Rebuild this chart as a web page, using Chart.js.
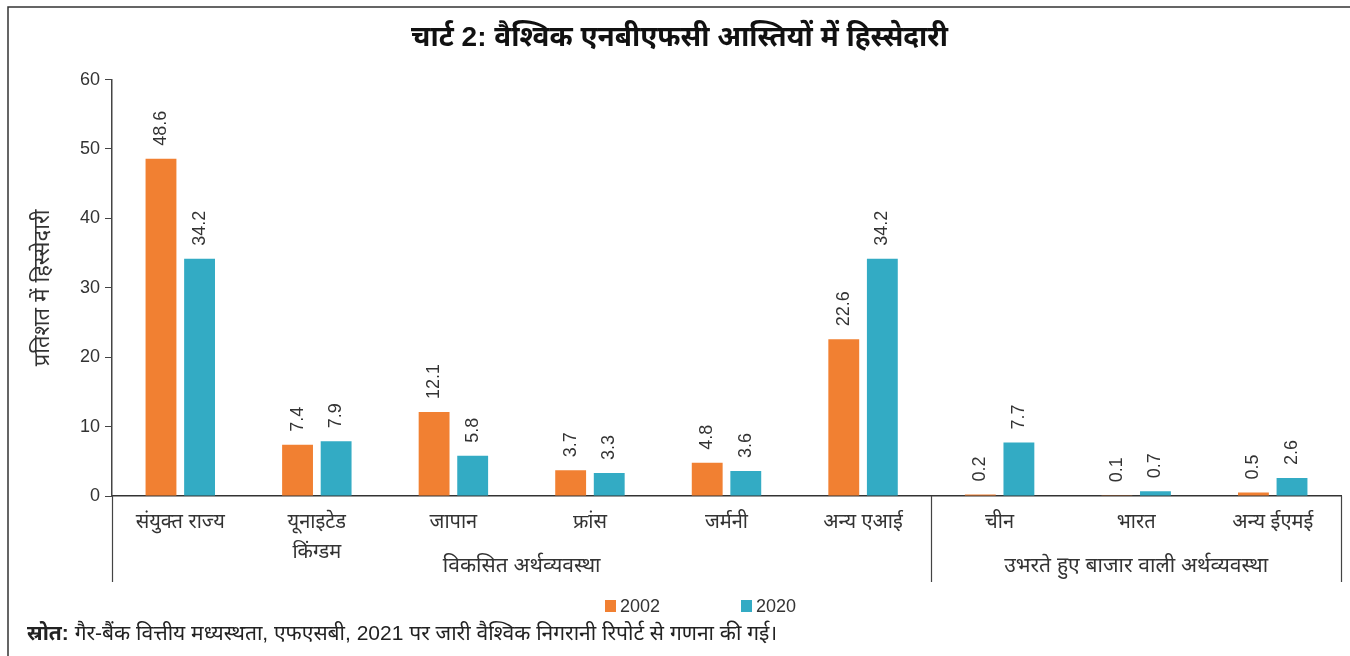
<!DOCTYPE html>
<html>
<head>
    <meta charset="utf-8">
    <title>वैश्विक एनबीएफसी आस्तियों में हिस्सेदारी</title>
    <script src="https://cdn.jsdelivr.net/npm/chart.js"></script>
    <style>
        body { margin: 0; background: #fff; }
    </style>
</head>
<body>
    <canvas id="mainChart" width="1350" height="656"></canvas>
    <script>
        const FONT = '"Liberation Sans", "Noto Sans", sans-serif';

        const categories = [
            'संयुक्त राज्य', ['यूनाइटेड', 'किंग्डम'], 'जापान', 'फ्रांस', 'जर्मनी',
            'अन्य एआई', 'चीन', 'भारत', 'अन्य ईएमई'
        ];
        // समूह: नाम और उसमें कितनी श्रेणियाँ
        const groupNames = ['विकसित अर्थव्यवस्था', 'उभरते हुए बाजार वाली अर्थव्यवस्था'];
        const groupSizes = [6, 3];

        const share2002 = [48.6, 7.4, 12.1, 3.7, 4.8, 22.6, 0.2, 0.1, 0.5];
        const share2020 = [34.2, 7.9, 5.8, 3.3, 3.6, 34.2, 7.7, 0.7, 2.6];
        const yTicks = [0, 10, 20, 30, 40, 50, 60];

        const titleText = 'चार्ट 2: वैश्विक एनबीएफसी आस्तियों में हिस्सेदारी';
        const yTitle = 'प्रतिशत में हिस्सेदारी';
        const sourceLead = 'स्रोत:';
        const sourceText = ' गैर-बैंक वित्तीय मध्यस्थता, एफएसबी, 2021 पर जारी वैश्विक निगरानी रिपोर्ट से गणना की गई।';

        // बार के ऊपर घुमाए हुए मान
        const valueLabels = {
            id: 'valueLabels',
            afterDatasetsDraw(chart) {
                const ctx = chart.ctx;
                ctx.save();
                ctx.font = '18px ' + FONT;
                ctx.fillStyle = '#333';
                ctx.textAlign = 'left';
                ctx.textBaseline = 'middle';
                chart.data.datasets.forEach((ds, di) => {
                    chart.getDatasetMeta(di).data.forEach((bar, i) => {
                        ctx.save();
                        ctx.translate(bar.x, bar.y - 13);
                        ctx.rotate(-Math.PI / 2);
                        ctx.fillText(ds.data[i].toFixed(1), 0, 0);
                        ctx.restore();
                    });
                });
                ctx.restore();
            }
        };

        // समूह विभाजक, समूह नाम, लेजेंड, स्रोत और फ्रेम
        const extras = {
            id: 'extras',
            afterDraw(chart) {
                const ctx = chart.ctx;
                const x = chart.scales.x;
                const area = chart.chartArea;
                const step = (x.right - x.left) / categories.length;
                ctx.save();

                // फ्रेम
                ctx.strokeStyle = '#333';
                ctx.lineWidth = 1.5;
                ctx.beginPath();
                ctx.moveTo(8, chart.height);
                ctx.lineTo(8, 7);
                ctx.lineTo(chart.width, 7);
                ctx.stroke();

                // विभाजक रेखाएँ
                ctx.strokeStyle = '#444';
                ctx.lineWidth = 1.2;
                let start = 0;
                const edges = [0];
                groupSizes.forEach(n => { start += n; edges.push(start); });
                edges.forEach(e => {
                    const px = Math.round(x.left + e * step) + 0.5;
                    ctx.beginPath();
                    ctx.moveTo(px, area.bottom);
                    ctx.lineTo(px, area.bottom + 86);
                    ctx.stroke();
                });

                // समूह नाम
                ctx.font = '21px ' + FONT;
                ctx.fillStyle = '#333';
                ctx.textAlign = 'center';
                ctx.textBaseline = 'middle';
                groupNames.forEach((g, gi) => {
                    const cx = x.left + (edges[gi] + edges[gi + 1]) / 2 * step;
                    ctx.fillText(g, cx, area.bottom + 70);
                });

                // लेजेंड
                ctx.font = '18px ' + FONT;
                const legendX = [605, 741];
                chart.data.datasets.forEach((ds, di) => {
                    ctx.fillStyle = ds.backgroundColor;
                    ctx.fillRect(legendX[di], 600, 11, 12);
                    ctx.fillStyle = '#333';
                    ctx.textAlign = 'left';
                    ctx.fillText(ds.label, legendX[di] + 15, 607);
                });

                // स्रोत
                ctx.font = 'bold 21px ' + FONT;
                ctx.fillStyle = '#222';
                ctx.fillText(sourceLead, 27, 634);
                const w = ctx.measureText(sourceLead).width;
                ctx.font = '21px ' + FONT;
                ctx.fillText(sourceText, 27 + w, 634);

                ctx.restore();
            }
        };

        new Chart(document.getElementById('mainChart'), {
            type: 'bar',
            data: {
                labels: categories,
                datasets: [
                    {
                        label: '2002',
                        data: share2002,
                        backgroundColor: '#F18032',
                        categoryPercentage: 0.565,
                        barPercentage: 0.8
                    },
                    {
                        label: '2020',
                        data: share2020,
                        backgroundColor: '#33ABC4',
                        categoryPercentage: 0.565,
                        barPercentage: 0.8
                    }
                ]
            },
            options: {
                responsive: false,
                maintainAspectRatio: false,
                animation: false,
                layout: { padding: { top: 0, left: 18, right: 9, bottom: 70 } },
                scales: {
                    x: {
                        grid: { display: false },
                        border: { color: '#333', width: 1.5 },
                        ticks: {
                            color: '#333',
                            font: { size: 20, family: FONT, lineHeight: 1.5 },
                            padding: 3,
                            maxRotation: 0,
                            autoSkip: false
                        },
                        afterFit: scale => { scale.height = 90; }
                    },
                    y: {
                        min: 0,
                        max: 60,
                        afterBuildTicks: scale => {
                            scale.ticks = yTicks.map(v => ({ value: v }));
                        },
                        grid: { drawOnChartArea: false, tickLength: 7, color: '#444' },
                        border: { color: '#444', width: 1.5 },
                        ticks: {
                            color: '#333',
                            font: { size: 18, family: FONT },
                            padding: 5
                        },
                        title: {
                            display: true,
                            text: yTitle,
                            color: '#333',
                            font: { size: 22, family: FONT },
                            padding: { top: 12, bottom: 0 }
                        },
                        afterFit: scale => { scale.width = 94; }
                    }
                },
                plugins: {
                    legend: { display: false },
                    tooltip: { enabled: false },
                    title: {
                        display: true,
                        text: titleText,
                        color: '#111',
                        font: { size: 28, weight: 'bold', family: FONT },
                        padding: { top: 21, bottom: 25 }
                    }
                }
            },
            plugins: [valueLabels, extras]
        });
    </script>
</body>
</html>
